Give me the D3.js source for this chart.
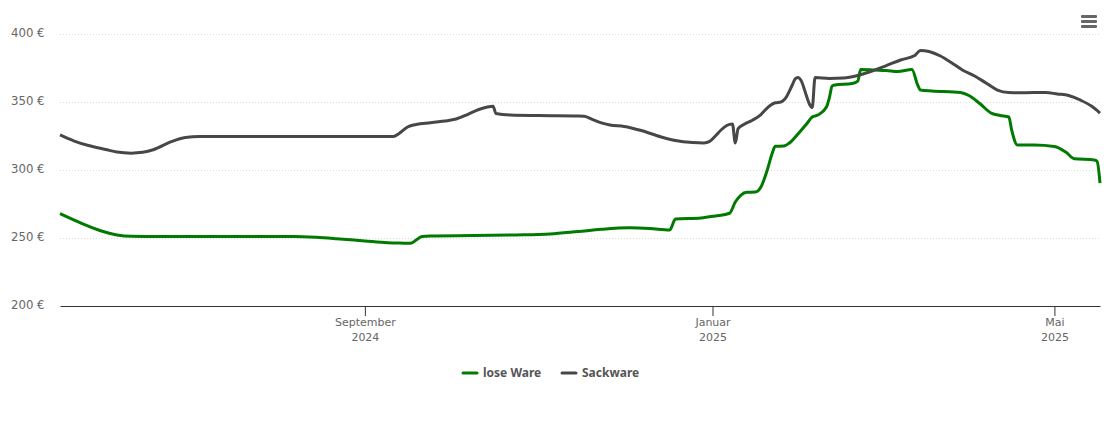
<!DOCTYPE html>
<html>
<head>
<meta charset="utf-8">
<script src="https://cdn.jsdelivr.net/npm/d3@7"></script>
<style>
  html, body { margin: 0; padding: 0; background: #fff; }
  text { font-family: "DejaVu Sans", sans-serif; }
  .tick-label { font-size: 11px; fill: #666; }
  .y .tick-label { font-size: 11.7px; }
  .legend-label { font-family: "Noto Sans", sans-serif; font-size: 12px; font-weight: bold; fill: #555; }
</style>
</head>
<body>
<div class="chart-container"></div>
<script>
//Data
const priceTicks = [200, 250, 300, 350, 400];
const monthTicks = ['2024-09-01', '2025-01-01', '2025-05-01'];
const monthNames = ['September', 'Januar', 'Mai'];
const yearNames = ['2024', '2025', '2025'];
const dateRange = ['2024-05-17', '2025-05-17'];

const loseDates = [
  '2024-05-17','2024-05-22','2024-05-25','2024-05-31','2024-06-06','2024-06-11','2024-06-16','2024-08-07',
  '2024-08-15','2024-08-22','2024-09-01','2024-09-09','2024-09-15','2024-09-17','2024-09-19','2024-09-21',
  '2024-09-24','2024-10-09','2024-10-24','2024-11-05','2024-11-15','2024-11-23','2024-12-03','2024-12-10',
  '2024-12-17','2024-12-19','2024-12-28','2025-01-02','2025-01-07','2025-01-09','2025-01-11','2025-01-13',
  '2025-01-16','2025-01-18','2025-01-20','2025-01-22','2025-01-23','2025-01-26','2025-01-28','2025-01-31',
  '2025-02-03','2025-02-05','2025-02-07','2025-02-10','2025-02-11','2025-02-12','2025-02-13','2025-02-19',
  '2025-02-21','2025-02-22','2025-02-27','2025-03-03','2025-03-07','2025-03-12','2025-03-14','2025-03-15',
  '2025-03-19','2025-03-29','2025-04-01','2025-04-05','2025-04-09','2025-04-12','2025-04-15','2025-04-16',
  '2025-04-18','2025-04-24','2025-05-01','2025-05-05','2025-05-08','2025-05-15','2025-05-16','2025-05-17'
];
const loseValues = [
  268, 263.2, 260.3, 255.5, 252.2, 251.2, 251.1, 251.1,
  250.5, 249.5, 247.8, 246.5, 246.2, 246.1, 248.5, 251.1,
  251.5, 251.8, 252.2, 252.9, 254.8, 256.4, 257.5, 257,
  255.9, 264, 264.7, 266.2, 268.2, 276.5, 281.6, 283.6,
  283.8, 287.5, 298.5, 312.5, 317.4, 317.6, 319.9, 326.5,
  333.8, 339, 340.4, 346.3, 352.9, 361.8, 362.5, 363.6,
  365.4, 373.9, 373.5, 373.2, 372.4, 373.9, 362.5, 358.8,
  358.1, 357, 354.8, 348.5, 341.6, 340.1, 339, 329.4,
  318.4, 318.4, 317.3, 313.2, 308.3, 307.4, 306.3, 290.4
];

const sackDates = [
  '2024-05-17','2024-05-22','2024-05-27','2024-06-02','2024-06-06','2024-06-11','2024-06-15','2024-06-19',
  '2024-06-25','2024-06-30','2024-07-05','2024-07-10','2024-09-11','2024-09-13','2024-09-16','2024-09-19',
  '2024-09-24','2024-09-29','2024-10-03','2024-10-07','2024-10-11','2024-10-14','2024-10-16','2024-10-17',
  '2024-10-22','2024-11-01','2024-11-15','2024-11-17','2024-11-20','2024-11-23','2024-11-26','2024-12-01',
  '2024-12-07','2024-12-14','2024-12-19','2024-12-25','2024-12-29','2024-12-31','2025-01-02','2025-01-04',
  '2025-01-06','2025-01-08','2025-01-09','2025-01-10','2025-01-12','2025-01-15','2025-01-18','2025-01-20',
  '2025-01-23','2025-01-25','2025-01-27','2025-01-29','2025-01-30','2025-01-31','2025-02-01','2025-02-03',
  '2025-02-04','2025-02-05','2025-02-06','2025-02-11','2025-02-16','2025-02-21','2025-02-26','2025-03-03',
  '2025-03-08','2025-03-13','2025-03-15','2025-03-18','2025-03-22','2025-03-26','2025-03-30','2025-04-03',
  '2025-04-07','2025-04-11','2025-04-15','2025-04-20','2025-04-28','2025-05-02','2025-05-06','2025-05-10',
  '2025-05-14','2025-05-17'
];
const sackValues = [
  325.8, 321.3, 318, 315.1, 313.2, 312.4, 313, 315.1,
  320.8, 323.9, 324.6, 324.6, 324.6, 326.8, 331.6, 333.5,
  334.7, 336, 337.5, 340.8, 344.5, 346.3, 346.8, 341.5,
  340.4, 340, 339.7, 339.5, 337.1, 334.6, 333.1, 332,
  329, 324.3, 321.7, 320.2, 319.9, 321, 325, 329.4,
  332.7, 333.8, 319.9, 330.5, 333.5, 336.6, 340.8, 345.2,
  349.4, 350, 354, 362.5, 366.9, 368, 366.2, 354.4,
  348.5, 346, 368, 367.3, 367.6, 369.5, 372.8, 376.8,
  380.9, 384.2, 387.9, 387.1, 383.8, 378.7, 373.2, 369.1,
  364, 358.8, 357, 356.8, 357, 355.9, 354.8, 351.5,
  347, 341.9
];

const seriesNames = ['lose Ware', 'Sackware'];
const seriesColors = ['#007a00', '#474747'];

const parseDate = d3.utcParse('%Y-%m-%d');
const toPoints = (dates, values) => dates.map((d, i) => ({date: parseDate(d), value: values[i]}));

//Canvas
const svg_width = 1110;
const svg_height = 423;
const margin = {top: 34, right: 10, bottom: 117, left: 60};
const chart_width = svg_width - margin.left - margin.right;
const chart_height = svg_height - margin.top - margin.bottom;

const svg = d3.select('.chart-container').append('svg')
  .attr('width', svg_width).attr('height', svg_height)
  .style('display', 'block');
const chart = svg.append('g').attr('transform', `translate(${margin.left},${margin.top})`);

//Scales
const xScale = d3.scaleUtc().domain(dateRange.map(parseDate)).range([0, chart_width]);
const yScale = d3.scaleLinear().domain([200, 400]).range([chart_height, 0]);

//Y axis + dotted grid
const yAxis = d3.axisLeft(yScale).tickValues(priceTicks).tickSize(-chart_width).tickFormat(d => `${d} €`);
const yAxisDraw = chart.append('g').attr('class', 'y axis').call(yAxis);
yAxisDraw.select('.domain').remove();
yAxisDraw.selectAll('line')
  .attr('stroke', '#dcdcdc').attr('stroke-dasharray', '1,2')
  .filter(d => d === 200).remove();
yAxisDraw.selectAll('text')
  .attr('class', 'tick-label').attr('x', -15.5).attr('dy', '0.22em').attr('fill', null);

//X axis, month on first row and year below
const xAxis = d3.axisBottom(xScale).tickValues(monthTicks.map(parseDate)).tickSizeInner(10).tickSizeOuter(0).tickFormat('');
const xAxisDraw = chart.append('g').attr('class', 'x axis')
  .attr('transform', `translate(0,${chart_height})`).call(xAxis);
xAxisDraw.select('.domain').attr('stroke', '#333').attr('stroke-width', 1);
xAxisDraw.selectAll('.tick line').attr('stroke', '#333');
xAxisDraw.selectAll('.tick text').remove();
xAxisDraw.selectAll('.tick').each(function(d, i) {
  const tick = d3.select(this);
  tick.append('text').attr('class', 'tick-label').attr('text-anchor', 'middle').attr('y', 20).text(monthNames[i]);
  tick.append('text').attr('class', 'tick-label').attr('text-anchor', 'middle').attr('y', 35).text(yearNames[i]);
});

//Lines
const line = d3.line().x(d => xScale(d.date)).y(d => yScale(d.value)).curve(d3.curveMonotoneX);
const allSeries = [toPoints(loseDates, loseValues), toPoints(sackDates, sackValues)];
chart.selectAll('.series').data(allSeries).join('path')
  .attr('class', 'series')
  .attr('fill', 'none')
  .attr('stroke', (d, i) => seriesColors[i])
  .attr('stroke-width', 3)
  .attr('stroke-linejoin', 'round')
  .attr('d', line);

//Legend
const legendStart = [462, 561];
const legend = svg.append('g').attr('class', 'legend').attr('transform', 'translate(0,373)');
const legendItem = legend.selectAll('g').data(seriesNames).join('g')
  .attr('transform', (d, i) => `translate(${legendStart[i]},0)`);
legendItem.append('line')
  .attr('x1', 1).attr('x2', 15)
  .attr('stroke', (d, i) => seriesColors[i]).attr('stroke-width', 3).attr('stroke-linecap', 'round');
legendItem.append('text').attr('class', 'legend-label')
  .attr('x', 21).attr('y', 4).text(d => d);

//Menu icon
const menuRows = [0, 1, 2];
svg.append('g').attr('class', 'menu').selectAll('rect').data(menuRows).join('rect')
  .attr('x', 1081).attr('y', d => 15 + d * 5)
  .attr('width', 16).attr('height', 3).attr('rx', 1)
  .attr('fill', '#666');
</script>
</body>
</html>
